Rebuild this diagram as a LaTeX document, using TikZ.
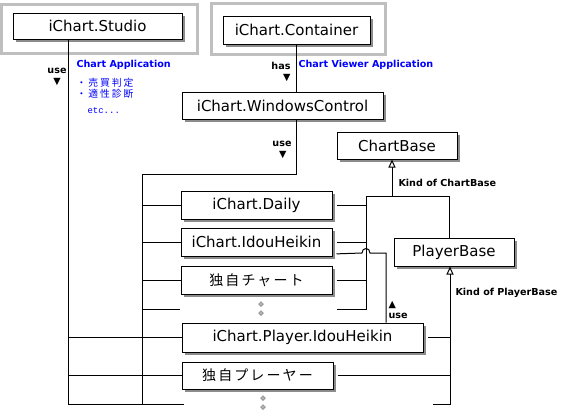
\documentclass[tikz,border=0pt]{standalone}
\usepackage{fontspec}
\setmainfont{DejaVu Sans}
\newfontfamily\jpbox[LetterSpace=15]{Noto Sans CJK JP}
\newfontfamily\jpnote[LetterSpace=20]{Noto Sans CJK JP}
\newfontfamily\etcfont{Liberation Mono}
\usetikzlibrary{positioning,fit,shapes.geometric,shadows,arrows.meta,calc}
\newcommand{\ClsFont}{\fontsize{15}{18}\selectfont}
\newcommand{\LblFont}{\bfseries\fontsize{9.6}{10.5}\selectfont}
\tikzset{
	cls/.style={draw, fill=white, line width=1pt, inner sep=0pt, font=\ClsFont,
		drop shadow={shadow xshift=3pt, shadow yshift=-3pt, fill=black!45, opacity=1}},
	frame/.style={draw=black!25, line width=3pt, inner xsep=13pt, inner ysep=11pt},
	lbl/.style={font=\LblFont, align=center, inner sep=0pt},
	note/.style={text=blue, inner sep=0pt},
	kind/.style={-{Triangle[length=8pt, width=7pt, fill=white]}},
	dot/.style={diamond, draw=black!50, fill=black!30, line width=0.5pt, inner sep=0pt, minimum size=5pt}
}

\begin{document}
\begin{tikzpicture}[x=1pt, y=-1pt, line width=1pt]
	\useasboundingbox (0,0) rectangle (566,416);

	% Define nodes
	\node[cls, minimum width=169pt, minimum height=26pt] (studio)    at (97.5,26)   {iChart.Studio};
	\node[cls, minimum width=147pt, minimum height=28pt] (container) at (296.5,30)  {iChart.Container};
	\node[cls, minimum width=201pt, minimum height=27pt] (wincon)    at (282.5,105.5) {iChart.WindowsControl};
	\node[cls, minimum width=120pt, minimum height=27pt] (chartbase) at (397,145.5) {ChartBase};
	\node[cls, minimum width=151pt, minimum height=28pt] (daily)     at (256.5,205) {iChart.Daily};
	\node[cls, minimum width=151pt, minimum height=28pt, below=8pt of daily] (idou) {iChart.IdouHeikin};
	\node[cls, minimum width=151pt, minimum height=28pt, below=9pt of idou]  (jchart) {\jpbox\fontsize{14}{16}\selectfont 独自チャート};
	\node[cls, minimum width=120pt, minimum height=28pt] (playerbase) at (454,252) {PlayerBase};
	\node[cls, minimum width=241pt, minimum height=29pt] (pidou)     at (302.5,337.5) {iChart.Player.IdouHeikin};
	\node[cls, minimum width=151pt, minimum height=27pt] (jplayer)   at (257.5,375.5) {\jpbox\fontsize{14}{16}\selectfont 独自プレーヤー};

	% Frames
	\node[frame, fit=(studio), xshift=2pt, yshift=-3pt]    (studioframe) {};
	\node[frame, fit=(container), xshift=2pt, yshift=1pt] (containerframe) {};

	% Notes
	\node[note, anchor=west, font=\LblFont] (app)    at (76,65)  {Chart Application};
	\node[note, anchor=west, font=\LblFont] (viewer) at (298,65) {Chart Viewer Application};
	\node[note, anchor=west, align=left, font=\jpnote\fontsize{9.8}{11}\selectfont] (tasks) at (76,88) {・売買判定\\・適性診断};
	\node[note, anchor=west, font=\etcfont\fontsize{9}{10}\selectfont] (etc) at (87,111) {etc...};

	% Labels
	\node[lbl] (usestudio) at (57,77)   {use\\▼};
	\node[lbl, anchor=east, align=right] (has) at (291,72) {has\\▼};
	\node[lbl] (usewin)    at (282,150) {use\\\,▼};
	\node[lbl, anchor=west, align=left] (useplayer) at (388,310) {▲\\use};
	\node[lbl, anchor=west] (kindchart)  at (398,183) {Kind of ChartBase};
	\node[lbl, anchor=west] (kindplayer) at (455,293) {Kind of PlayerBase};

	% Bus points
	\coordinate (busA)  at (68,404);
	\coordinate (busB)  at (142,404);
	\coordinate (bend)  at (142,174);
	\coordinate (endL)  at (184,404);
	\coordinate (endR)  at (433,404);
	\coordinate (busC)  at (450,404);
	\coordinate (dotsL) at (180,309);
	\coordinate (dotsR) at (337,309);
	\coordinate (kindA) at (366,196);
	\coordinate (kindB) at (449,196);
	\coordinate (kindC) at (392,196);
	\coordinate (hopL)  at (362,253);
	\coordinate (hopR)  at (370,253);
	\coordinate (useX)  at (386,253);
	\coordinate (idouLow) at ($(idou.east)+(0,12)$);

	% Connect the nodes
	\draw (studio.south -| busA) -- (busA) -- (endL);
	\draw (container.south) -- (container.south |- wincon.north);
	\draw (wincon.south -| container.south) |- (bend) -- (busB);
	\foreach \n in {daily,idou,jchart}
		\draw (busB |- \n.west) -- (\n.west);
	\draw (busB |- dotsL) -- (dotsL);
	\foreach \n in {pidou,jplayer}
		\draw (busA |- \n.west) -- (\n.west);

	\foreach \n in {daily,idou,jchart}
		\draw[shorten <=4pt] (\n.east) -- (kindA |- \n.east);
	\draw[shorten <=4pt] (idouLow) -- (hopL) .. controls (362,247) and (370,247) .. (hopR) -- (useX) -- (useX |- pidou.north);
	\draw (dotsR) -- (kindA |- dotsR) -- (kindA) -- (kindB) -- (kindB |- playerbase.north);
	\draw[kind] (kindC) -- (kindC |- chartbase.south);

	\foreach \n in {pidou,jplayer}
		\draw[shorten <=4pt] (\n.east) -- (busC |- \n.east);
	\draw[kind] (endR) -- (busC) -- (busC |- playerbase.south);

	% More
	\foreach \y/\x [count=\i] in {304/261,313/261,398/263,407/263}
		\node[dot] (more\i) at (\x,\y) {};
\end{tikzpicture}
\end{document}
